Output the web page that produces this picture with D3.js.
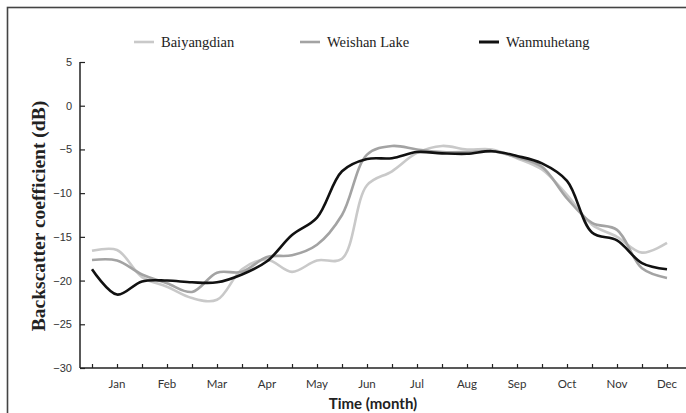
<!DOCTYPE html>
<html>
<head>
<meta charset="utf-8">
<script src="https://cdn.jsdelivr.net/npm/d3@7"></script>
<style>
  html, body { margin: 0; padding: 0; background: #fff; }
  svg { display: block; }
</style>
</head>
<body>
<svg id="chart" width="686" height="413"></svg>
<script>
// ---- data (semi-monthly samples, position in months 0.5 .. 12) ----
const monthLabels = ["Jan","Feb","Mar","Apr","May","Jun","Jul","Aug","Sep","Oct","Nov","Dec"];
const timePos = [0.5,1,1.5,2,2.5,3,3.5,4,4.5,5,5.5,6,6.5,7,7.5,8,8.5,9,9.5,10,10.5,11,11.5,12];
const baiyangdian = [-16.6,-16.5,-19.6,-20.7,-22.0,-22.2,-18.7,-17.6,-19.0,-17.7,-17.5,-9.1,
                     -7.5,-5.4,-4.6,-5.0,-5.0,-6.0,-7.3,-10.2,-13.6,-15.0,-16.8,-15.7];
const weishanLake = [-17.65,-17.7,-19.3,-20.3,-21.3,-19.1,-19.0,-17.3,-17.1,-15.9,-12.5,-5.6,
                     -4.6,-5.0,-5.3,-5.3,-5.2,-5.9,-7.0,-10.6,-13.4,-14.2,-18.6,-19.7];
const wanmuhetang = [-18.7,-21.6,-20.1,-20.0,-20.2,-20.2,-19.3,-17.8,-14.8,-12.8,-7.5,-6.1,
                     -6.0,-5.3,-5.45,-5.5,-5.2,-5.75,-6.6,-8.6,-14.5,-15.4,-18.0,-18.7];
const yTicks = [5,0,-5,-10,-15,-20,-25,-30];
const seriesNames = ["Baiyangdian","Weishan Lake","Wanmuhetang"];

// ---- layout ----
const svg = d3.select("#chart");
const x = d3.scaleLinear().domain([0.5, 12]).range([92, 667]);
const y = d3.scaleLinear().domain([-30, 5]).range([368, 62]);
const axisLeftX = 80;

// frame
svg.append("rect").attr("x", 7.5).attr("y", 7.5).attr("width", 700).attr("height", 420)
  .attr("fill", "none").attr("stroke", "#444").attr("stroke-width", 1.6);

// y axis
const yAxis = d3.axisLeft(y).tickValues(yTicks).tickSize(-5).tickPadding(8).tickFormat(d3.format("d"));
const gy = svg.append("g").attr("transform", `translate(${axisLeftX},0)`).call(yAxis);
gy.select(".domain").attr("d", `M0,${y(5)}V${y(-30)}`).attr("stroke", "#222").attr("stroke-width", 1.5);
gy.selectAll(".tick line").attr("stroke", "#222").attr("stroke-width", 1.2);
gy.selectAll(".tick text").attr("font-family", "'Liberation Sans', Arial, sans-serif")
  .attr("font-size", 11).attr("fill", "#333").attr("x", -8);

// x axis
const xAxis = d3.axisBottom(x).tickValues(timePos).tickSize(-4).tickFormat("");
const gx = svg.append("g").attr("transform", `translate(0,${y(-30)})`).call(xAxis);
gx.select(".domain").attr("d", `M${axisLeftX},0H686`).attr("stroke", "#222").attr("stroke-width", 1.5);
gx.selectAll(".tick line").attr("stroke", "#222").attr("stroke-width", 1.2);

// month labels
svg.append("g").selectAll("text").data(monthLabels).join("text")
  .attr("x", (d, i) => x(i + 1)).attr("y", 388)
  .attr("text-anchor", "middle")
  .attr("font-family", "Lato, 'Open Sans', sans-serif").attr("font-size", 11.5).attr("fill", "#333")
  .text(d => d);

// axis titles
svg.append("text").attr("x", 373).attr("y", 409).attr("text-anchor", "middle")
  .attr("font-family", "Lato, 'Open Sans', sans-serif").attr("font-weight", "bold").attr("font-size", 15)
  .attr("fill", "#222").text("Time (month)");
svg.append("text").attr("transform", "translate(45,216) rotate(-90)").attr("text-anchor", "middle")
  .attr("font-family", "'Liberation Serif', 'Times New Roman', serif").attr("font-weight", "bold").attr("font-size", 19.5)
  .attr("fill", "#222").text("Backscatter coefficient (dB)");

// lines
const colors = ["#c9c9c9", "#a3a3a3", "#111111"];
const allSeries = [baiyangdian, weishanLake, wanmuhetang];
const line = d3.line().x((d, i) => x(timePos[i])).y(d => y(d)).curve(d3.curveCatmullRom.alpha(0.5));
allSeries.forEach((s, k) => {
  svg.append("path").datum(s).attr("d", line).attr("fill", "none")
    .attr("stroke", colors[k]).attr("stroke-width", 2.6).attr("stroke-linejoin", "round");
});

// legend
const legendX = [134, 300, 479];
const legendY = 42;
seriesNames.forEach((n, k) => {
  svg.append("line").attr("x1", legendX[k]).attr("x2", legendX[k] + 20)
    .attr("y1", legendY).attr("y2", legendY)
    .attr("stroke", colors[k]).attr("stroke-width", k === 2 ? 3 : 2.6);
  svg.append("text").attr("x", legendX[k] + 27).attr("y", legendY + 5)
    .attr("font-family", "'Liberation Serif', 'Times New Roman', serif").attr("font-size", 14.5)
    .attr("fill", "#222").text(n);
});
</script>
</body>
</html>
